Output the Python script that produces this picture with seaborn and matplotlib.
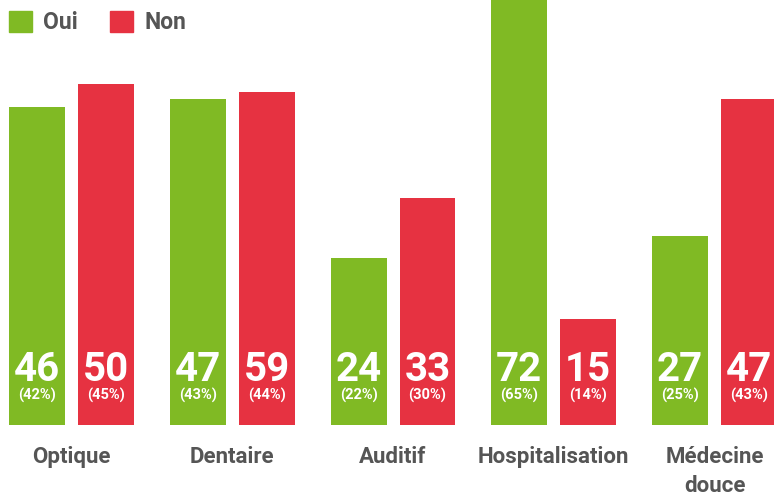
import pandas as pd
import matplotlib
matplotlib.use("Agg")
import matplotlib.pyplot as plt
import seaborn as sns
from matplotlib.patches import Patch

# Data
categories = ["Optique", "Dentaire", "Auditif", "Hospitalisation", "Médecine\ndouce"]
oui_counts = [46, 47, 24, 72, 27]
non_counts = [50, 59, 33, 15, 47]
oui_pct = [42, 43, 22, 65, 25]
non_pct = [45, 44, 30, 14, 43]

green = "#80BA24"
red = "#E63241"
grey = "#555555"

df = pd.DataFrame({
    "cat": categories * 2,
    "pct": oui_pct + non_pct,
    "count": oui_counts + non_counts,
    "answer": ["Oui"] * len(categories) + ["Non"] * len(categories),
})

sns.set_style("white")
plt.rcParams["font.family"] = ["Roboto", "DejaVu Sans"]

fig = plt.figure(figsize=(7.74, 4.95), dpi=100)
ax = fig.add_axes([0, 70 / 495, 1, 425 / 495])

sns.barplot(data=df, x="cat", y="pct", hue="answer", palette=[green, red],
            saturation=1, width=0.858, gap=0.189, linewidth=0, ax=ax, legend=False)

ax.set_xlim(-0.445, 4.370)
ax.set_ylim(0, 56.1)
ax.set_xlabel("")
ax.set_ylabel("")
ax.set_yticks([])
sns.despine(ax=ax, left=True, bottom=True)
ax.tick_params(axis="x", length=0, pad=15, labelsize=16, labelcolor=grey)
for lab in ax.get_xticklabels():
    lab.set_fontweight("bold")
    lab.set_linespacing(1.45)

# labels inside the bars
for cont, counts, pcts in zip(ax.containers, [oui_counts, non_counts], [oui_pct, non_pct]):
    for bar, n, p in zip(cont, counts, pcts):
        xc = bar.get_x() + bar.get_width() / 2
        ax.annotate(str(n), (xc, 0), xytext=(0, 31.5), textcoords="offset points",
                    ha="center", va="baseline", color="white", fontsize=29, fontweight="bold")
        ax.annotate(f"({p}%)", (xc, 0), xytext=(0, 18), textcoords="offset points",
                    ha="center", va="baseline", color="white", fontsize=10.5, fontweight="bold")

# legend
handles = [Patch(color=green, label="Oui"), Patch(color=red, label="Non")]
leg = fig.legend(handles=handles, loc="upper left", bbox_to_anchor=(9 / 774, 1 - 11 / 495),
                 ncol=2, frameon=False, fontsize=16.5, handlelength=1.0, handleheight=1.0,
                 handletextpad=0.5, columnspacing=1.4, borderpad=0, borderaxespad=0)
for t in leg.get_texts():
    t.set_color(grey)
    t.set_fontweight("bold")

fig.savefig("out.png", dpi=100)
